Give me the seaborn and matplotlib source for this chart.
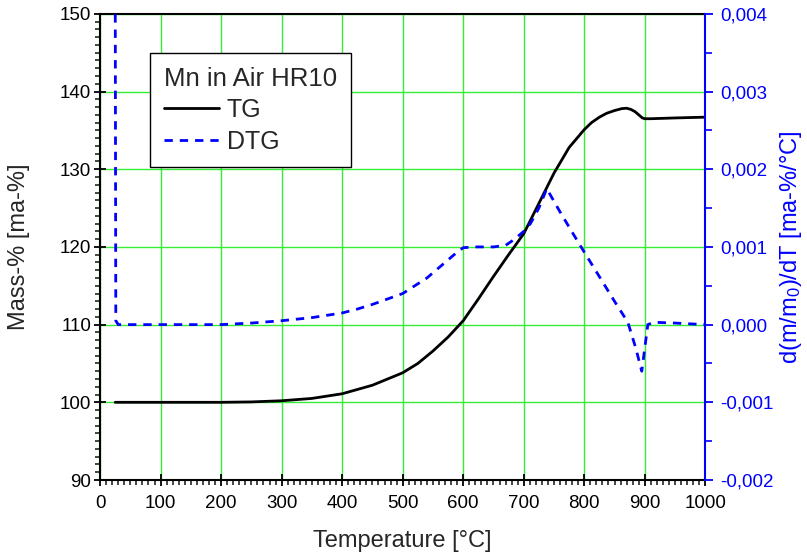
import numpy as np
import pandas as pd
import matplotlib
matplotlib.use("Agg")
import matplotlib.pyplot as plt
from matplotlib.ticker import MultipleLocator, FuncFormatter
from matplotlib.lines import Line2D
import seaborn as sns

# TG curve (mass-%)
temp_tg = [25, 100, 200, 250, 300, 350, 400, 450, 500, 525, 550, 575, 600, 625,
           650, 675, 700, 725, 750, 775, 800, 812, 825, 837, 850, 862, 870, 877,
           884, 890, 896, 900, 910, 950, 1000]
mass_tg = [100.0, 100.0, 100.0, 100.05, 100.2, 100.5, 101.1, 102.2, 103.8, 105.0,
           106.6, 108.4, 110.5, 113.3, 116.2, 119.0, 121.7, 125.6, 129.5, 132.8,
           135.1, 136.0, 136.7, 137.2, 137.55, 137.8, 137.85, 137.7, 137.4, 137.0,
           136.6, 136.5, 136.5, 136.6, 136.7]

# DTG curve (d(m/m0)/dT)
temp_dtg = [25, 26, 30, 100, 200, 250, 300, 350, 400, 425, 450, 475, 500, 520,
            540, 555, 570, 585, 600, 620, 650, 670, 685, 700, 711, 725, 738,
            760, 790, 820, 850, 872, 885, 895, 905, 915, 950, 1000]
dtg = [0.0045, 0.00005, 0.0, 0.0, 0.0, 0.00002, 0.00005, 0.00009, 0.00015,
       0.0002, 0.00026, 0.00033, 0.0004, 0.0005, 0.0006, 0.0007, 0.0008,
       0.0009, 0.00099, 0.001, 0.001, 0.00102, 0.0011, 0.0012, 0.0013, 0.0015,
       0.00175, 0.00145, 0.00106, 0.00068, 0.0003, 0.00003, -0.0003, -0.0006,
       0.0, 0.00003, 0.00002, 0.0]

df_tg = pd.DataFrame({"T": temp_tg, "TG": mass_tg})
df_dtg = pd.DataFrame({"T": temp_dtg, "DTG": dtg})

sns.set_style("ticks")
plt.rcParams["font.family"] = ["Liberation Sans", "DejaVu Sans"]
plt.rcParams["mathtext.default"] = "regular"

fig = plt.figure(figsize=(8.07, 5.53), dpi=100)
ax = fig.add_axes([0.124, 0.132, 0.750, 0.843])
ax2 = ax.twinx()

sns.lineplot(data=df_tg, x="T", y="TG", ax=ax, color="black", linewidth=2,
             legend=False, zorder=3)
sns.lineplot(data=df_dtg, x="T", y="DTG", ax=ax2, color="#0000ff", linewidth=2,
             linestyle=(0, (3, 2.5)), legend=False, zorder=3)

ax.set_xlim(0, 1000)
ax.set_ylim(90, 150)
ax2.set_ylim(-0.002, 0.004)

ax.xaxis.set_major_locator(MultipleLocator(100))
ax.xaxis.set_minor_locator(MultipleLocator(10))
ax.yaxis.set_major_locator(MultipleLocator(10))
ax.yaxis.set_minor_locator(MultipleLocator(1))
ax2.yaxis.set_major_locator(MultipleLocator(0.001))
ax2.yaxis.set_minor_locator(MultipleLocator(0.0005))
ax2.yaxis.set_major_formatter(FuncFormatter(lambda v, p: f"{v:.3f}".replace(".", ",").replace("-0,000", "0,000")))

ax.grid(True, which="major", color="#33ee33", linewidth=1)
ax.set_axisbelow(True)

for s in ["left", "bottom", "top"]:
    ax.spines[s].set_color("black")
    ax.spines[s].set_linewidth(1.5)
ax.spines["right"].set_visible(False)
for s in ["left", "bottom", "top"]:
    ax2.spines[s].set_visible(False)
ax2.spines["right"].set_color("#0000ff")
ax2.spines["right"].set_linewidth(1.5)

ax.tick_params(axis="both", which="major", direction="inout", length=9, width=1.3,
               labelsize=13.5, pad=2, colors="black")
ax.tick_params(axis="both", which="minor", direction="out", length=3.5, width=1.2)
ax.tick_params(axis="x", which="major", pad=6)
ax2.tick_params(axis="y", which="major", direction="out", length=6, width=1.3,
                labelsize=13.5, pad=5, colors="#0000ff")
ax2.tick_params(axis="y", which="minor", direction="out", length=5, width=1.2,
                colors="#0000ff")

ax.set_xlabel("Temperature [°C]", fontsize=17, labelpad=13)
ax.set_ylabel("Mass-% [ma-%]", fontsize=17, labelpad=21)
ax2.set_ylabel("d(m/m$_0$)/dT [ma-%/°C]", fontsize=17, color="#0000ff", labelpad=3)

handles = [Line2D([], [], color="black", linewidth=2),
           Line2D([], [], color="#0000ff", linewidth=2, linestyle=(0, (3, 2.5)))]
leg = ax2.legend(handles, ["TG", "DTG"], title="Mn in Air HR10",
                 loc="upper left", bbox_to_anchor=(0.083, 0.916),
                 fontsize=18, title_fontsize=18.5, alignment="left",
                 frameon=True, fancybox=False, framealpha=1, edgecolor="black",
                 handlelength=2.2, handletextpad=0.3, labelspacing=0.3,
                 borderpad=0.55, borderaxespad=0)
leg.get_frame().set_linewidth(1)
leg.set_zorder(10)

fig.savefig("out.png", dpi=100)
